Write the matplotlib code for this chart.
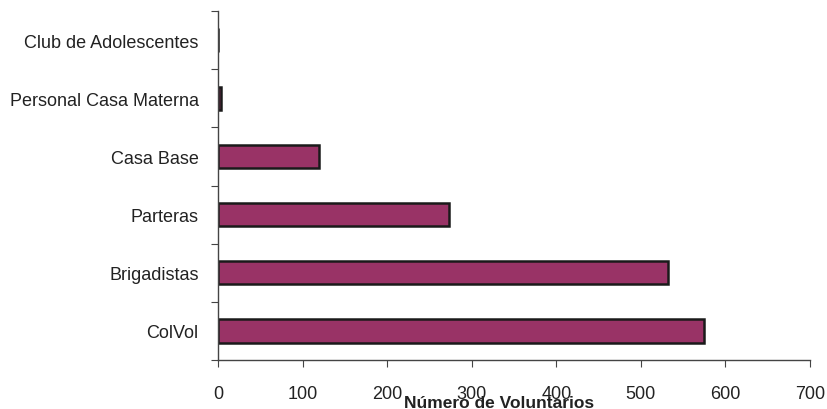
import matplotlib
matplotlib.use("Agg")
import matplotlib.pyplot as plt
import numpy as np

plt.rcParams['font.family'] = ['Liberation Sans', 'DejaVu Sans']

categorias = ["ColVol", "Brigadistas", "Parteras", "Casa Base",
              "Personal Casa Materna", "Club de Adolescentes"]
voluntarios = [575, 532, 273, 119, 3, 0]
xticks = [0, 100, 200, 300, 400, 500, 600, 700]

fig = plt.figure(figsize=(8.27, 4.10), dpi=100)
ax = fig.add_axes([0.2636, 0.1195, 0.7158, 0.8512])

y = np.arange(len(categorias))
ax.barh(y, voluntarios, height=0.4, color="#993366", edgecolor="#1a1a1a",
        linewidth=1.8)

ax.set_xlim(0, 700)
ax.set_ylim(-0.5, len(categorias) - 0.5)
ax.set_xticks(xticks)
ax.set_xticklabels([str(v) for v in xticks], fontsize=13, color="#222222")
ax.tick_params(axis='x', length=5, pad=13, color="#444444")

# ticks at category boundaries, labels in the middle
ax.set_yticks(np.arange(-0.5, len(categorias), 1.0))
ax.set_yticklabels([])
ax.set_yticks(y, minor=True)
ax.set_yticklabels(categorias, minor=True, fontsize=13, color="#222222")
ax.tick_params(axis='y', which='major', length=5, color="#444444")
ax.tick_params(axis='y', which='minor', length=0, pad=14)

for s in ['top', 'right']:
    ax.spines[s].set_visible(False)
for s in ['left', 'bottom']:
    ax.spines[s].set_color("#444444")
    ax.spines[s].set_linewidth(1.0)

ax.set_xlabel("Número de Voluntarios", fontsize=12.5, fontweight='bold',
              color="#222222")
ax.xaxis.set_label_coords(0.475, -0.10)

fig.savefig("out.png", dpi=100)
